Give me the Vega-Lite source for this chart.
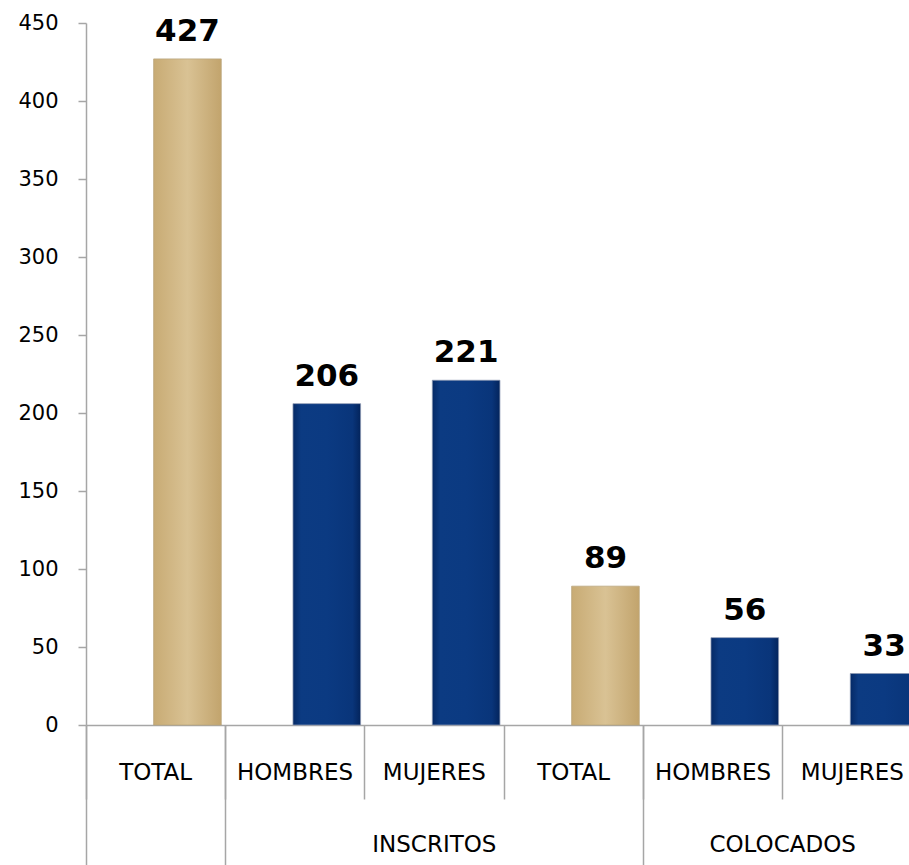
{
  "$schema": "https://vega.github.io/schema/vega-lite/v6.json",
  "autosize": {"type": "none"},
  "padding": {"left": 86, "top": 23, "right": 0, "bottom": 140},
  "width": 823,
  "height": 702,
  "background": "white",
  "config": {"view": {"stroke": null}, "font": "DejaVu Sans"},
  "datasets": {
    "bars": [
      {"key": "a1", "cat": "TOTAL", "tipo": "total", "value": 427},
      {"key": "a2", "cat": "HOMBRES", "tipo": "genero", "value": 206},
      {"key": "a3", "cat": "MUJERES", "tipo": "genero", "value": 221},
      {"key": "a4", "cat": "TOTAL", "tipo": "total", "value": 89},
      {"key": "a5", "cat": "HOMBRES", "tipo": "genero", "value": 56},
      {"key": "a6", "cat": "MUJERES", "tipo": "genero", "value": 33}
    ],
    "groups": [
      {"group": "INSCRITOS", "anchor": "a3"},
      {"group": "COLOCADOS", "anchor": "a6"}
    ]
  },
  "resolve": {"axis": {"x": "independent"}},
  "layer": [
    {
      "data": {"name": "bars"},
      "transform": [{"filter": "datum.tipo === 'total'"}],
      "mark": {
        "type": "bar",
        "stroke": "#b9a57c",
        "strokeWidth": 0.75,
        "color": {
          "gradient": "linear", "x1": 0, "y1": 0, "x2": 1, "y2": 0,
          "stops": [
            {"offset": 0, "color": "#c8ab74"},
            {"offset": 0.5, "color": "#d9c294"},
            {"offset": 1, "color": "#c2a46d"}
          ]
        }
      },
      "encoding": {
        "x": {
          "field": "key", "type": "nominal",
          "scale": {"domain": ["a1", "a2", "a3", "a4", "a5", "a6"], "range": [0, 836], "paddingInner": 0, "paddingOuter": 0},
          "axis": {
            "title": null,
            "labelExpr": "{'a1':'TOTAL','a2':'HOMBRES','a3':'MUJERES','a4':'TOTAL','a5':'HOMBRES','a6':'MUJERES'}[datum.value]",
            "labelAngle": 0,
            "bandPosition": 0,
            "tickSize": 74,
            "tickColor": "#a6a6a6",
            "tickWidth": 1.5,
            "domainColor": "#a6a6a6",
            "domainWidth": 1.5,
            "labelFont": "DejaVu Sans",
            "labelFontSize": 23,
            "labelColor": "black",
            "labelBaseline": "alphabetic",
            "labelPadding": -20,
            "grid": false
          }
        },
        "xOffset": {"datum": "R", "scale": {"domain": ["L", "R"], "paddingInner": 0, "paddingOuter": 0.03, "align": 0}},
        "y": {
          "field": "value", "type": "quantitative",
          "scale": {"domain": [0, 450], "nice": false},
          "axis": {
            "title": null,
            "values": [0, 50, 100, 150, 200, 250, 300, 350, 400, 450],
            "grid": false,
            "tickSize": 8,
            "tickColor": "#a6a6a6",
            "tickWidth": 1.5,
            "domainColor": "#a6a6a6",
            "domainWidth": 1.5,
            "labelFont": "DejaVu Sans",
            "labelFontSize": 21,
            "labelColor": "black",
            "labelPadding": 20
          }
        }
      }
    },
    {
      "data": {"name": "bars"},
      "transform": [{"filter": "datum.tipo === 'genero'"}],
      "mark": {
        "type": "bar",
        "stroke": "#8e9ab3",
        "strokeWidth": 0.75,
        "color": {
          "gradient": "linear", "x1": 0, "y1": 0, "x2": 1, "y2": 0,
          "stops": [
            {"offset": 0, "color": "#052a66"},
            {"offset": 0.12, "color": "#0c3b82"},
            {"offset": 0.5, "color": "#0b3a82"},
            {"offset": 0.88, "color": "#09357a"},
            {"offset": 1, "color": "#03245c"}
          ]
        }
      },
      "encoding": {
        "x": {"field": "key", "type": "nominal", "axis": null},
        "xOffset": {"datum": "R"},
        "y": {"field": "value", "type": "quantitative"}
      }
    },
    {
      "data": {"name": "bars"},
      "mark": {"type": "text", "font": "DejaVu Sans", "fontWeight": "bold", "fontSize": 31, "baseline": "alphabetic", "dy": -18, "color": "black"},
      "encoding": {
        "x": {"field": "key", "type": "nominal", "axis": null},
        "xOffset": {"datum": "R"},
        "y": {"field": "value", "type": "quantitative"},
        "text": {"field": "value", "type": "quantitative"}
      }
    },
    {
      "data": {"name": "groups"},
      "transform": [{"filter": "datum.group === 'INSCRITOS'"}],
      "mark": {"type": "text", "font": "DejaVu Sans", "fontSize": 23, "baseline": "alphabetic", "dy": 127, "color": "black"},
      "encoding": {
        "x": {"field": "anchor", "type": "nominal", "bandPosition": 0.5, "axis": null},
        "y": {"datum": 0, "type": "quantitative"},
        "text": {"field": "group", "type": "nominal"}
      }
    },
    {
      "data": {"name": "groups"},
      "transform": [{"filter": "datum.group === 'COLOCADOS'"}],
      "mark": {"type": "text", "font": "DejaVu Sans", "fontSize": 23, "baseline": "alphabetic", "dy": 127, "color": "black"},
      "encoding": {
        "x": {
          "field": "anchor", "type": "nominal", "bandPosition": 0,
          "axis": {
            "orient": "bottom",
            "title": null,
            "values": ["a1", "a2", "a5"],
            "bandPosition": 0,
            "labels": false,
            "domain": false,
            "grid": false,
            "ticks": true,
            "tickSize": 140,
            "tickColor": "#a6a6a6",
            "tickWidth": 1.5
          }
        },
        "y": {"datum": 0, "type": "quantitative"},
        "text": {"field": "group", "type": "nominal"}
      }
    }
  ]
}
